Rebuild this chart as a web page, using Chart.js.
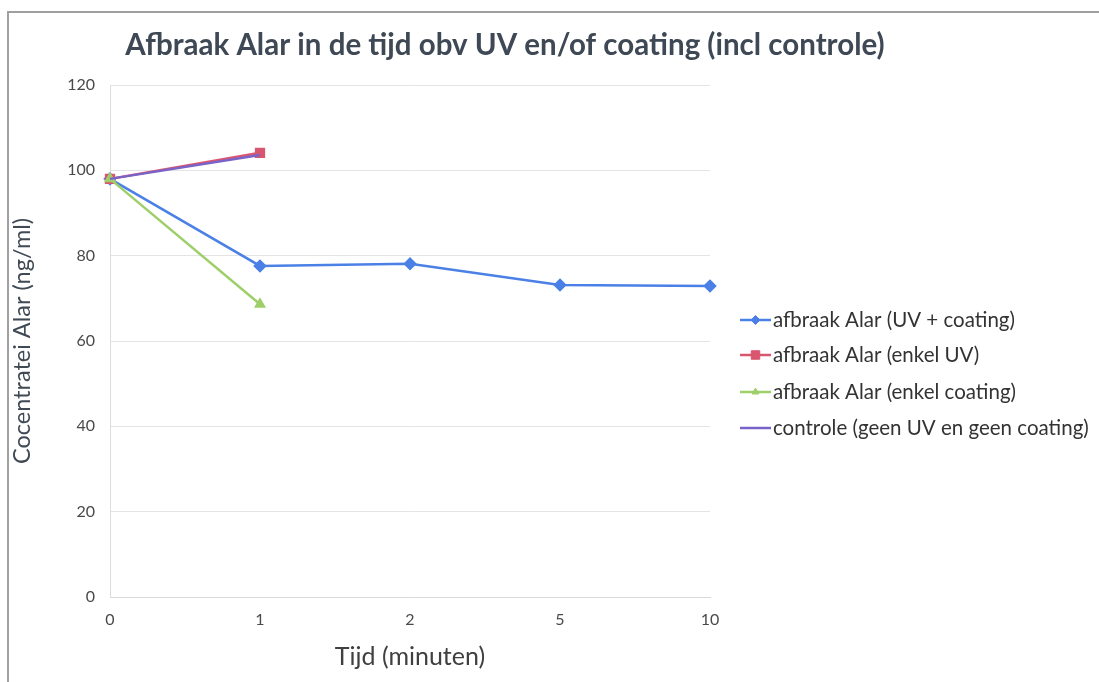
<!DOCTYPE html>
<html>
<head>
<meta charset="utf-8">
<script src="https://cdn.jsdelivr.net/npm/chart.js@4.4.1/dist/chart.umd.min.js"></script>
<style>
html,body{margin:0;padding:0;background:#fff;}
#wrap{position:relative;width:1099px;height:682px;}
</style>
</head>
<body>
<div id="wrap"><canvas id="c" width="1099" height="682"></canvas></div>
<script>
const chartTitle = 'Afbraak Alar in de tijd obv UV en/of coating (incl controle)';
const xTitle = 'Tijd (minuten)';
const yTitle = 'Cocentratei Alar (ng/ml)';
const categories = ['0', '1', '2', '5', '10'];
const seriesNames = [
  'afbraak Alar (UV + coating)',
  'afbraak Alar (enkel UV)',
  'afbraak Alar (enkel coating)',
  'controle (geen UV en geen coating)'
];
const uvCoating = [98, 77.6, 78.1, 73.1, 72.9];
const enkelUV = [98, 104.1, null, null, null];
const enkelCoating = [98, 68.6, null, null, null];
const controle = [98, 103.6, null, null, null];
const yTicks = [0, 20, 40, 60, 80, 100, 120];

const FONT = 'Lato, "Open Sans", sans-serif';
const colors = ['#4b80e6', '#d9566f', '#9fcf6a', '#7a63c8'];
const markers = ['rectRot', 'rect', 'triangle', false];
const markerSize = [5, 5.5, 4.5, 0];
const legendMarkerSize = [4.5, 6, 4, 0];

const framePlugin = {
  id: 'frame',
  beforeDraw(chart) {
    const ctx = chart.ctx;
    ctx.save();
    ctx.fillStyle = '#fff';
    ctx.fillRect(0, 0, chart.width, chart.height);
    ctx.strokeStyle = '#a0a0a0';
    ctx.lineWidth = 2;
    ctx.beginPath();
    ctx.moveTo(8, chart.height);
    ctx.lineTo(8, 12);
    ctx.lineTo(chart.width, 12);
    ctx.stroke();
    ctx.restore();
  }
};

const titleLegendPlugin = {
  id: 'titleLegend',
  afterDraw(chart) {
    const ctx = chart.ctx;
    ctx.save();
    ctx.fillStyle = '#3f4955';
    ctx.font = 'bold 29.5px ' + FONT;
    ctx.textAlign = 'center';
    ctx.textBaseline = 'middle';
    ctx.fillText(chartTitle, 505, 45);
    // legend
    const ys = [320, 355, 392, 428];
    chart.data.datasets.forEach((ds, i) => {
      const y = ys[i];
      ctx.strokeStyle = ds.borderColor;
      ctx.lineWidth = 2.5;
      ctx.beginPath();
      ctx.moveTo(740, y);
      ctx.lineTo(771, y);
      ctx.stroke();
      if (ds.pointStyle) {
        ctx.fillStyle = ds.pointBackgroundColor;
        ctx.strokeStyle = ds.pointBorderColor;
        ctx.lineWidth = 1;
        Chart.helpers.drawPoint(ctx, {pointStyle: ds.pointStyle, radius: legendMarkerSize[i], rotation: 0, borderWidth: 1}, 755.5, y);
      }
      ctx.fillStyle = '#333';
      ctx.font = '20.5px ' + FONT;
      ctx.textAlign = 'left';
      ctx.textBaseline = 'middle';
      ctx.fillText(ds.label, 773, y);
    });
    ctx.restore();
  }
};

const seriesData = [uvCoating, enkelUV, enkelCoating, controle];
const datasets = seriesData.map((d, i) => ({
  label: seriesNames[i],
  data: d,
  borderColor: colors[i],
  backgroundColor: colors[i],
  pointBackgroundColor: colors[i],
  pointBorderColor: colors[i],
  pointStyle: markers[i],
  pointRadius: markerSize[i],
  borderWidth: 2.5,
  tension: 0,
  spanGaps: false,
  order: 4 - i
}));

new Chart(document.getElementById('c'), {
  type: 'line',
  data: { labels: categories, datasets },
  plugins: [framePlugin, titleLegendPlugin],
  options: {
    responsive: false,
    animation: false,
    layout: { padding: { left: 0, top: 85, right: 389, bottom: 0 } },
    plugins: {
      legend: { display: false },
      title: { display: false },
      tooltip: { enabled: false }
    },
    scales: {
      x: {
        type: 'category',
        offset: false,
        grid: { display: false, drawTicks: true, tickLength: 5, color: '#d9d9d9' },
        border: { display: true, color: '#d9d9d9', width: 1 },
        ticks: { color: '#4a4a4a', font: { family: FONT, size: 16 }, padding: 8, maxRotation: 0 },
        title: { display: true, text: xTitle, color: '#404040', font: { family: FONT, size: 25 }, padding: { top: 0, bottom: 10 } },
        afterFit(scale) { scale.height = 85; }
      },
      y: {
        min: 0,
        max: 120,
        afterBuildTicks(scale) { scale.ticks = yTicks.map(v => ({ value: v })); },
        grid: { color: '#e4e4e4', drawTicks: false, lineWidth: 1 },
        border: { display: true, color: '#dcdcdc', width: 1 },
        ticks: { color: '#4a4a4a', font: { family: FONT, size: 16 }, padding: 15 },
        title: { display: true, text: yTitle, color: '#404a55', font: { family: FONT, size: 23.5 }, padding: { top: 8, bottom: 0 } },
        afterFit(scale) { scale.width = 110; }
      }
    }
  }
});
</script>
</body>
</html>
